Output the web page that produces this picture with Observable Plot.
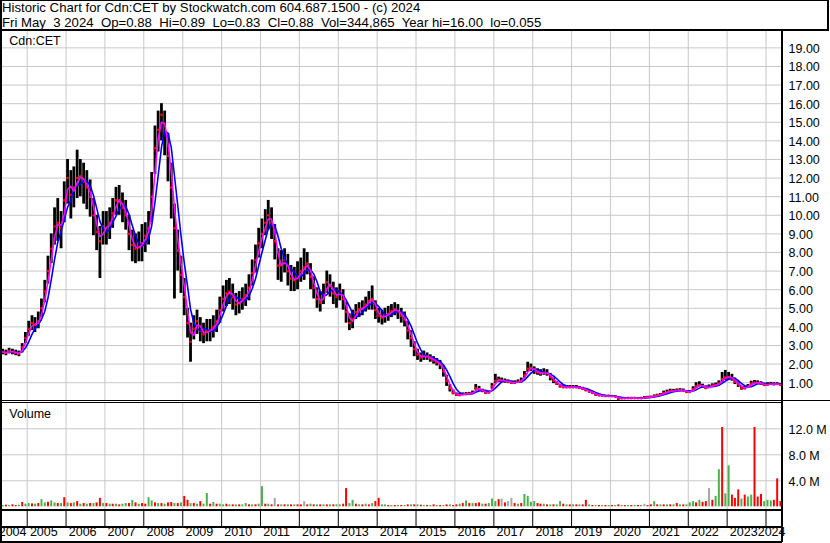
<!DOCTYPE html>
<html><head><meta charset="utf-8">
<script src="https://cdn.jsdelivr.net/npm/d3@7"></script>
<script src="https://cdn.jsdelivr.net/npm/@observablehq/plot@0.6"></script>
<style>
body{margin:0;background:#fff;}
#chart{position:relative;width:830px;height:543px;font-family:"Liberation Sans",Arial,sans-serif;overflow:hidden;background:#fff;}
.ln{position:absolute;background:#000;}
.hd{position:absolute;left:2px;font-size:13.2px;white-space:pre;line-height:12.5px;height:12.5px;color:#000;}
.lbl{position:absolute;font-size:12.5px;line-height:1;color:#000;white-space:pre;}
#chart svg{position:absolute;left:0;overflow:visible;}
</style></head><body>
<div id="chart"></div>
<script>
// ---- header texts ----
const titleLine = "Historic Chart for Cdn:CET by Stockwatch.com 604.687.1500 - (c) 2024";
const infoLine = "Fri May  3 2024  Op=0.88  Hi=0.89  Lo=0.83  Cl=0.88  Vol=344,865  Year hi=16.00  lo=0.055";
const symbolLabel = "Cdn:CET";
const volumeLabel = "Volume";

// ---- axis ticks ----
const priceTicks = [1,2,3,4,5,6,7,8,9,10,11,12,13,14,15,16,17,18,19];
const volTicks = [4,8,12]; // millions
const yearLabels = ["2004","2005","2006","2007","2008","2009","2010","2011","2012","2013","2014","2015","2016","2017","2018","2019","2020","2021","2022","2023","2024"];

// ---- monthly price data, May 2004 .. May 2024 ----
const closes = [
 2.65,2.6,2.7,2.65,2.6,2.55,2.9,3.4,
 3.9,4.2,4.1,4.3,5.0,5.9,7.0,8.2,9.4,9.6,9.3,10.8,
 12.0,11.1,11.5,12.0,12.1,11.8,11.5,11.0,10.0,9.1,8.6,9.4,
 9.3,9.6,10.1,10.8,10.8,10.4,10.0,9.0,8.4,8.2,8.3,8.5,
 8.9,9.3,11.0,13.6,14.6,15.4,14.5,13.2,11.5,9.3,8.1,6.8,
 5.6,4.2,3.2,3.9,4.3,3.8,3.6,3.8,3.8,4.0,4.3,4.9,
 5.5,5.8,5.9,5.6,5.2,5.3,5.5,5.7,6.1,6.9,7.6,8.5,
 9.0,9.6,10.0,9.6,8.6,7.3,7.3,7.6,7.0,6.6,6.5,6.7,
 7.0,7.2,7.4,6.7,6.1,5.5,5.3,5.7,6.4,6.2,5.8,5.6,
 5.9,5.5,4.8,4.2,4.4,4.8,4.95,5.0,5.2,5.4,5.5,4.9,
 4.6,4.5,4.6,4.7,4.85,4.95,4.8,4.6,4.4,3.8,3.4,2.8,
 2.5,2.35,2.45,2.4,2.3,2.2,2.1,1.95,1.6,1.1,0.7,0.45,
 0.35,0.33,0.38,0.4,0.4,0.45,0.7,0.65,0.55,0.45,0.47,0.8,
 1.1,1.15,1.12,1.08,1.05,1.0,1.0,1.05,1.1,1.4,1.75,1.8,
 1.65,1.55,1.5,1.55,1.5,1.3,1.1,0.95,0.8,0.76,0.76,0.76,
 0.76,0.76,0.72,0.67,0.6,0.52,0.45,0.35,0.31,0.3,0.28,0.28,
 0.27,0.25,0.17,0.15,0.16,0.17,0.17,0.17,0.16,0.17,0.2,0.22,
 0.23,0.28,0.32,0.36,0.45,0.5,0.55,0.56,0.58,0.6,0.58,0.5,
 0.5,0.65,0.8,0.88,0.8,0.72,0.78,0.84,0.88,0.95,1.2,1.3,
 1.3,1.22,1.05,0.9,0.7,0.7,0.8,0.95,1.0,1.0,0.95,0.88,
 0.9,0.94,0.92,0.93,0.88
];
const highs = [
 2.8,2.75,2.85,2.8,2.75,2.7,3.1,3.7,
 4.3,4.6,4.5,4.8,5.5,6.5,7.8,9.0,10.4,10.9,10.2,11.8,
 13.0,12.4,12.6,13.5,13.0,12.8,12.4,11.9,10.9,10.0,9.4,10.2,
 10.2,10.4,10.9,11.5,11.6,11.2,10.8,10.0,9.2,9.0,9.1,9.5,
 9.6,10.2,12.3,14.8,15.6,16.0,15.6,14.4,12.8,10.6,9.2,7.8,
 6.6,5.0,4.2,4.6,4.9,4.5,4.2,4.4,4.4,4.6,4.9,5.6,
 6.2,6.5,6.6,6.3,5.8,5.9,6.1,6.3,6.8,7.6,8.4,9.3,
 9.8,10.3,10.8,10.4,9.5,8.2,8.1,8.2,7.9,7.3,7.2,7.5,
 7.7,8.2,8.0,7.4,6.7,6.1,5.9,6.3,7.0,6.8,6.4,6.1,
 6.3,6.0,5.3,4.7,4.9,5.2,5.3,5.4,5.6,5.9,6.2,5.4,
 5.0,4.9,5.0,5.1,5.2,5.3,5.2,5.0,4.8,4.3,3.8,3.2,
 2.8,2.6,2.7,2.6,2.5,2.4,2.3,2.2,1.9,1.4,0.9,0.6,
 0.45,0.42,0.45,0.47,0.48,0.55,0.9,0.8,0.65,0.55,0.55,0.95,
 1.45,1.3,1.25,1.2,1.15,1.1,1.1,1.15,1.25,1.6,2.1,2.0,
 1.85,1.75,1.7,1.75,1.7,1.5,1.25,1.05,0.9,0.85,0.85,0.85,
 0.85,0.85,0.8,0.75,0.68,0.6,0.52,0.42,0.36,0.35,0.33,0.33,
 0.32,0.3,0.22,0.2,0.2,0.21,0.21,0.21,0.2,0.21,0.25,0.27,
 0.28,0.34,0.38,0.42,0.55,0.6,0.65,0.64,0.66,0.68,0.66,0.58,
 0.58,0.78,1.0,1.05,0.92,0.82,0.88,0.94,0.98,1.1,1.55,1.66,
 1.55,1.45,1.25,1.05,0.82,0.8,0.9,1.08,1.12,1.1,1.05,0.98,
 1.0,1.02,1.0,1.0,0.95
];
const lows = [
 2.5,2.45,2.55,2.5,2.45,2.4,2.6,3.1,
 3.5,3.8,3.7,3.9,4.5,5.3,6.3,7.4,8.4,8.6,8.2,9.6,
 10.6,9.8,10.4,10.9,11.0,10.6,10.3,9.9,8.9,8.1,6.6,8.4,
 8.4,8.7,9.3,10.0,10.0,9.6,9.2,8.1,7.5,7.4,7.5,7.5,
 8.0,8.4,9.6,12.2,13.4,14.0,13.2,11.8,9.8,5.5,7.0,5.8,
 4.6,3.4,2.1,3.3,3.6,3.2,3.1,3.2,3.2,3.4,3.7,4.2,
 4.8,5.1,5.2,4.9,4.6,4.7,4.9,5.1,5.4,6.2,6.9,7.7,
 8.2,8.9,9.2,8.7,7.6,6.5,6.4,6.9,6.2,5.9,5.9,6.0,
 6.4,6.5,6.8,6.0,5.5,5.0,4.8,5.2,5.8,5.6,5.2,5.0,
 5.4,4.9,4.2,3.8,3.9,4.4,4.5,4.6,4.8,4.9,4.9,4.4,
 4.2,4.1,4.2,4.3,4.5,4.6,4.4,4.2,4.0,3.3,2.9,2.4,
 2.2,2.1,2.2,2.2,2.1,2.0,1.9,1.7,1.3,0.8,0.5,0.35,
 0.27,0.26,0.31,0.34,0.34,0.38,0.6,0.55,0.47,0.38,0.4,0.65,
 0.95,1.0,1.0,0.97,0.95,0.92,0.92,0.96,1.0,1.25,1.55,1.6,
 1.45,1.4,1.35,1.4,1.35,1.1,0.95,0.85,0.72,0.68,0.68,0.68,
 0.68,0.68,0.65,0.6,0.52,0.45,0.38,0.28,0.26,0.25,0.23,0.23,
 0.22,0.2,0.055,0.11,0.12,0.13,0.13,0.13,0.12,0.13,0.16,0.18,
 0.19,0.23,0.27,0.31,0.38,0.44,0.48,0.5,0.52,0.54,0.52,0.44,
 0.44,0.55,0.7,0.78,0.7,0.63,0.68,0.75,0.8,0.85,1.0,1.12,
 1.15,1.08,0.9,0.75,0.6,0.62,0.7,0.85,0.9,0.9,0.85,0.8,
 0.82,0.86,0.84,0.85,0.83
];
// monthly volume peaks (millions of shares)
const volumes = [
 0.2,0.25,0.2,0.3,0.2,0.25,0.66,0.4,
 0.5,0.45,0.4,0.5,1.1,0.6,0.7,0.9,0.6,0.5,0.5,1.4,
 0.6,0.5,0.6,0.8,0.4,0.5,0.4,0.5,0.5,0.6,1.3,0.5,
 0.5,0.4,0.4,0.4,0.3,0.4,0.5,0.5,1.0,0.6,0.4,0.5,
 0.4,1.4,0.9,0.6,0.5,0.5,0.4,0.6,0.66,0.5,0.5,0.6,
 1.6,1.0,0.5,0.5,0.4,0.8,0.4,2.05,0.4,0.66,0.4,0.4,
 0.3,0.4,0.3,0.3,0.3,0.3,0.3,0.5,0.3,0.3,0.3,0.4,
 3.1,0.4,0.4,0.3,1.3,0.3,0.3,0.3,0.3,0.3,0.3,0.3,
 0.3,0.8,0.3,0.4,0.3,0.3,0.3,0.3,0.3,0.3,0.3,0.3,
 0.3,0.4,2.8,0.5,1.0,0.4,0.3,0.3,0.4,0.3,0.5,0.8,
 1.3,0.3,0.3,0.2,0.2,0.2,0.2,0.2,0.2,0.3,0.3,0.3,
 0.3,0.25,0.2,0.2,0.2,0.3,0.2,0.2,0.2,0.3,0.3,0.2,
 0.3,0.4,0.5,0.9,0.5,0.5,0.5,0.6,0.4,0.4,0.5,1.2,
 0.8,1.1,1.2,0.6,0.8,1.3,0.5,0.4,0.5,1.9,1.6,0.7,
 0.8,0.5,0.4,0.4,0.3,0.3,0.3,0.3,0.8,0.4,0.3,0.3,
 0.3,0.3,0.3,0.3,1.0,0.3,0.2,0.2,0.2,0.2,0.2,0.2,
 0.2,0.2,0.3,0.2,0.2,0.2,0.2,0.2,0.2,0.2,0.4,0.2,
 0.3,0.8,0.3,0.3,0.3,0.3,0.3,0.3,0.5,0.3,0.3,0.3,
 0.6,0.8,0.6,1.0,0.7,0.8,2.8,1.0,1.6,5.7,12.2,2.0,
 6.3,1.8,1.3,2.6,1.2,1.8,1.5,1.8,12.2,1.5,1.9,0.8,
 1.0,0.9,1.0,4.3,0.8
];
// volume bar colour per month: g = up, r = down, y = unchanged
const volDirs = (
 "grgrrgrg" +
 "grgrggrggrgr" + "grgrgrgrgrrg" + "rgrgrggrgrgr" + "rggrgrgrrgrg" +
 "rrgrgrggrgrg" + "grgrgrggrgrg" + "grgryrgrgrgr" + "ryrgrgrgrgrg" +
 "grrggrgrgrgr" + "rggrgrgrgrgr" + "grgrgrgrgrgr" + "rgrgrgrrgrgg" +
 "gryryyrgrggg" + "grrgrgrggrgr" + "grgrrgrgrgrg" + "rgrgrgrgrgyr" +
 "rgrgrgrgrgrg" + "ggrgrryrggrg" + "grrrgrggrrrg" + "ggrrr").split("");
const dirColors = {g: "#4cb04c", r: "#ff0000", y: "#a6a6a6"};

// ---- build rows ----
const months = d3.utcMonth.range(new Date(Date.UTC(2004, 4, 1)), new Date(Date.UTC(2024, 5, 1)));
const rows = months.map((m, i) => ({
  date: d3.utcDay.offset(m, 14),
  close: closes[i], hi: highs[i], lo: lows[i],
  vol: volumes[i], col: dirColors[volDirs[i]]
}));
const yearStarts = yearLabels.slice(1).map(y => new Date(Date.UTC(+y, 0, 1)));

const font = {fontFamily: "'Liberation Sans', Arial, sans-serif", fontSize: "12.5px", background: "transparent", overflow: "visible"};
const xScale = {type: "utc", domain: [new Date(Date.UTC(2005,0,1)), new Date(Date.UTC(2024,0,1))], range: [26.7, 765.5], axis: null};
const grid = "#c8c8c8";

const chart = document.getElementById("chart");

// ---- price panel ----
const pricePlot = Plot.plot({
  width: 830, height: 370, marginLeft: 2, marginRight: 48, marginTop: 0, marginBottom: 0,
  style: font,
  x: xScale,
  y: {domain: [0, 19.88], range: [369.8, 0], axis: null, label: null},
  marks: [
    Plot.ruleY(priceTicks, {stroke: grid}),
    Plot.ruleX(yearStarts, {stroke: grid}),
    Plot.ruleX(rows, {x: "date", y1: "lo", y2: "hi", stroke: "#000", strokeWidth: 2.8}),
    Plot.dot(rows, {x: "date", y: "close", r: 1.3, fill: "#ff0000", stroke: null}),
    Plot.lineY(rows, Plot.windowY({k: 4, anchor: "end"}, {x: "date", y: "close", stroke: "#0000ff", strokeWidth: 1.6})),
    Plot.lineY(rows, Plot.windowY({k: 2, anchor: "end"}, {x: "date", y: "close", stroke: "#ff00ff", strokeWidth: 1.6})),
    Plot.axisY(priceTicks, {anchor: "right", tickSize: 0, tickPadding: 6, tickFormat: d => d.toFixed(2), label: null, fill: "#000", dy: 1})
  ]
});
pricePlot.style.top = "31px";
chart.appendChild(pricePlot);

// ---- volume panel ----
const volPlot = Plot.plot({
  width: 830, height: 107, marginLeft: 2, marginRight: 48, marginTop: 0, marginBottom: 0,
  style: font,
  x: xScale,
  y: {domain: [0, 16], range: [104.3, 0.3], axis: null, label: null},
  color: {type: "identity"},
  marks: [
    Plot.ruleY(volTicks, {stroke: grid}),
    Plot.ruleX(yearStarts, {stroke: grid}),
    Plot.ruleX(rows, {x: "date", y1: "vol", stroke: "col", strokeWidth: 2}),
    Plot.axisY(volTicks, {anchor: "right", tickSize: 0, tickPadding: 6, tickFormat: d => d.toFixed(1) + " M", label: null, fill: "#000", dy: 1})
  ]
});
volPlot.style.top = "402px";
chart.appendChild(volPlot);

// ---- time axis strip ----
const axisPlot = Plot.plot({
  width: 830, height: 34, marginLeft: 2, marginRight: 48, marginTop: 1, marginBottom: 16,
  style: font,
  x: xScale,
  marks: [
    Plot.ruleX(yearStarts, {stroke: "#000"}),
    Plot.text(yearLabels.slice(1, -1), {x: d => new Date(Date.UTC(+d, 0, 1)), text: d => d, frameAnchor: "bottom", textAnchor: "start", dx: 2.7, dy: 8.5, fill: "#000"}),
    Plot.text(yearLabels.slice(0, 1), {x: d => new Date(Date.UTC(+d + 1, 0, 1)), text: d => d, frameAnchor: "bottom", textAnchor: "end", dx: -0.7, dy: 8.5, fill: "#000"}),
    Plot.text(yearLabels.slice(-1), {text: d => d, frameAnchor: "bottom-right", textAnchor: "end", dx: 3, dy: 8.5, fill: "#000"})
  ]
});
axisPlot.style.top = "509px";
chart.appendChild(axisPlot);

// ---- texts ----
function addText(cls, txt, left, top) {
  const d = document.createElement("div");
  d.className = cls; d.textContent = txt;
  d.style.left = left + "px"; d.style.top = top + "px";
  chart.appendChild(d);
}
addText("hd", titleLine, 2, 2.0);
addText("hd", infoLine, 2, 17.0);
addText("lbl", symbolLabel, 9.3, 35.4);
addText("lbl", volumeLabel, 9.3, 407.7);

// ---- frame lines ----
function line(l, t, w, h) {
  const d = document.createElement("div");
  d.className = "ln";
  Object.assign(d.style, {left: l + "px", top: t + "px", width: w + "px", height: h + "px"});
  chart.appendChild(d);
}
line(0, 0, 829, 1);      // header top
line(0, 29, 829, 2);     // header bottom
line(827, 0, 2, 31);     // header right
line(0, 0, 2, 543);      // left edge
line(781, 31, 2, 511);   // plot right edge
line(0, 400, 830, 1);    // price bottom
line(0, 402, 782, 1);    // volume top
line(0, 509, 782, 2);    // volume bottom
line(0, 526, 782, 2);    // axis middle
line(0, 541, 782, 2);    // bottom edge
</script>
</body></html>
